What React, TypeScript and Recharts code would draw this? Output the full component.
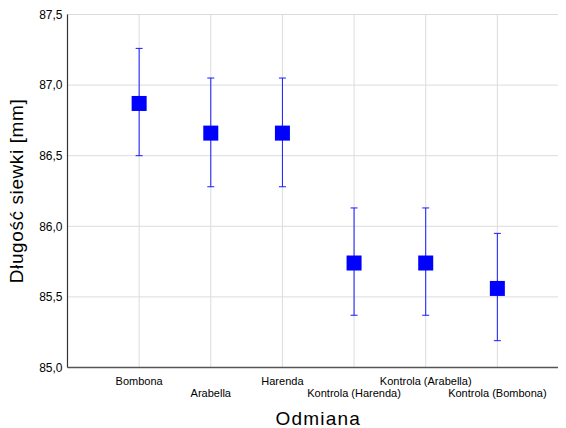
import React from "react";
import {
  ScatterChart,
  Scatter,
  XAxis,
  YAxis,
  CartesianGrid,
  ErrorBar,
  Label,
} from "recharts";

const categories = [
  "Bombona",
  "Arabella",
  "Harenda",
  "Kontrola (Harenda)",
  "Kontrola (Arabella)",
  "Kontrola (Bombona)",
];
const means = [86.87, 86.66, 86.66, 85.74, 85.74, 85.56];
const lower = [86.5, 86.28, 86.28, 85.37, 85.37, 85.19];
const upper = [87.26, 87.05, 87.05, 86.13, 86.13, 85.95];
const yTicks = [85.0, 85.5, 86.0, 86.5, 87.0, 87.5];
const xTicks = [1, 2, 3, 4, 5, 6];

const data = categories.map((name, i) => ({
  name,
  x: i + 1,
  y: means[i],
  err: [means[i] - lower[i], upper[i] - means[i]],
}));

const FONT = "'Liberation Sans', Arial, sans-serif";

const SquareShape = (props: any) => {
  const { cx, cy } = props;
  if (cx == null || cy == null) return null;
  return <rect x={cx - 7.5} y={cy - 7.5} width={15} height={15} fill="#0000ff" />;
};

const XTick = (props: any) => {
  const { x, y, payload } = props;
  const idx = xTicks.indexOf(payload.value);
  if (idx < 0) return null;
  const dy = idx % 2 === 0 ? 17.2 : 29.2;
  return (
    <text
      x={x}
      y={y + dy}
      textAnchor="middle"
      fontSize={11}
      fontFamily={FONT}
      fill="#000"
    >
      {categories[idx]}
    </text>
  );
};

export default function App() {
  return (
    <div style={{ width: 558, height: 420 }}>
      <style>{"html,body{overflow:hidden}.recharts-surface{overflow:visible}"}</style>
      <ScatterChart
        width={570}
        height={420}
        margin={{ top: 6.5, right: 9, bottom: 0, left: 0 }}
      >
        <CartesianGrid stroke="#dcdcdc" strokeWidth={1} />
        <XAxis
          dataKey="x"
          type="number"
          domain={[0, 7]}
          ticks={xTicks}
          interval={0}
          height={60.5}
          tickLine={false}
          tickSize={0}
          tickMargin={0}
          tick={<XTick />}
          axisLine={{ stroke: "#555", strokeWidth: 1.5 }}
        >
          <Label
            content={(p: any) => {
              const vb = p.viewBox || {};
              return (
                <text
                  x={vb.x + vb.width / 2}
                  y={416.5}
                  textAnchor="middle"
                  fontSize={19}
                  letterSpacing={1.2}
                  fontFamily={FONT}
                  fill="#000"
                >
                  Odmiana
                </text>
              );
            }}
          />
        </XAxis>
        <XAxis
          xAxisId="top"
          orientation="top"
          type="number"
          domain={[0, 7]}
          ticks={xTicks}
          height={0}
          tick={false}
          tickLine={false}
          axisLine={{ stroke: "#333", strokeWidth: 1.2 }}
        />
        <YAxis
          dataKey="y"
          type="number"
          domain={[85, 87.5]}
          ticks={yTicks}
          interval={0}
          width={59.5}
          tickLine={false}
          tickSize={3}
          tickMargin={2}
          tickFormatter={(v: number) => v.toFixed(1).replace(".", ",")}
          tick={{ fontSize: 12, fill: "#000", fontFamily: FONT }}
          axisLine={{ stroke: "#333", strokeWidth: 1.2 }}
        >
          <Label
            content={() => (
              <text
                x={14.7}
                y={183}
                transform="rotate(-90, 14.7, 183)"
                textAnchor="middle"
                fontSize={19}
                letterSpacing={0.6}
                fontFamily={FONT}
                fill="#000"
              >
                Długość siewki [mm]
              </text>
            )}
          />
        </YAxis>
        <Scatter
          data={data}
          dataKey="y"
          fill="#0000ff"
          shape={<SquareShape />}
          isAnimationActive={false}
        >
          <ErrorBar
            dataKey="err"
            direction="y"
            width={3.5}
            stroke="#1a1aff"
            strokeWidth={1}
            isAnimationActive={false}
          />
        </Scatter>
      </ScatterChart>
    </div>
  );
}
